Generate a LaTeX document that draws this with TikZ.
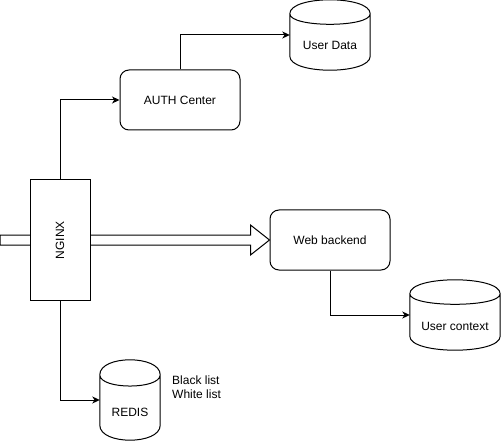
\documentclass[tikz,border=0pt]{standalone}
\usepackage{fontspec}
\setmainfont{Liberation Sans}
\usetikzlibrary{arrows.meta,calc}
\tikzset{
  box/.style={draw,line width=1pt,fill=white,rounded corners=9pt,minimum width=120pt,minimum height=60pt,inner sep=0pt,font=\fontsize{12}{14}\selectfont},
  plainbox/.style={draw,line width=1pt,fill=white,minimum width=60pt,minimum height=120pt,inner sep=0pt,font=\fontsize{12}{14}\selectfont},
  cylspace/.style={draw=none,inner sep=0pt},
  lbl/.style={inner sep=0pt,font=\fontsize{12}{14}\selectfont},
  conn/.style={line width=1pt,-{Stealth[length=7.5pt,width=7pt,inset=2.2pt]}},
  bigarrow/.style={draw,line width=1pt,fill=white,line join=miter},
}
\newcommand\dbcyl[2]{%
  \draw[line width=1pt,fill=white] let \p1=(#1.north west), \p2=(#1.south east) in
    (\x1,{\y1-#2}) .. controls (\x1,{\y1+#2/3}) and (\x2,{\y1+#2/3}) .. (\x2,{\y1-#2})
    -- (\x2,{\y2+#2}) .. controls (\x2,{\y2-#2/3}) and (\x1,{\y2-#2/3}) .. (\x1,{\y2+#2}) -- cycle
    (\x1,{\y1-#2}) .. controls (\x1,{\y1-2*#2}) and (\x2,{\y1-2*#2}) .. (\x2,{\y1-#2});
}
\begin{document}
\begin{tikzpicture}[x=1pt,y=-1pt]
\useasboundingbox (0,0) rectangle (501,441);
% nodes
\node[box] (web) at (330,240) {Web backend};
\node[box] (auth) at (180,100) {AUTH Center};
\node[cylspace,minimum width=80pt,minimum height=70pt] (userdata) at (330,35) {};
\node[cylspace,minimum width=90pt,minimum height=70pt] (usercontext) at (455,315) {};
\node[cylspace,minimum width=60pt,minimum height=80pt] (redis) at (130,400) {};
\dbcyl{userdata}{14pt}
\dbcyl{usercontext}{14pt}
\dbcyl{redis}{15pt}
\node[lbl] (userdatalbl) at (330,45) {User Data};
\node[lbl] (usercontextlbl) at (455,326) {User context};
\node[lbl] (redislbl) at (130,412.5) {REDIS};
\node[lbl,anchor=west,align=left] (lists) at (172,387) {Black list\\White list};
% big arrow into the system
\coordinate (entry) at (0,240);
\coordinate (tip) at (web.west);
\draw[bigarrow] ($(entry)+(0,-5)$) -- ($(tip)+(-19,-5)$) -- ($(tip)+(-19,-15)$) -- (tip)
  -- ($(tip)+(-19,15)$) -- ($(tip)+(-19,5)$) -- ($(entry)+(0,5)$) -- cycle;
\node[plainbox] (nginx) at (60,240) {\rotatebox{90}{NGINX}};
% connectors
\draw[conn] (nginx.north) |- (auth.west);
\draw[conn] (auth.north) |- (userdata.west);
\draw[conn] (web.south) |- (usercontext.west);
\draw[conn] (nginx.south) |- (redis.west);
\end{tikzpicture}
\end{document}
